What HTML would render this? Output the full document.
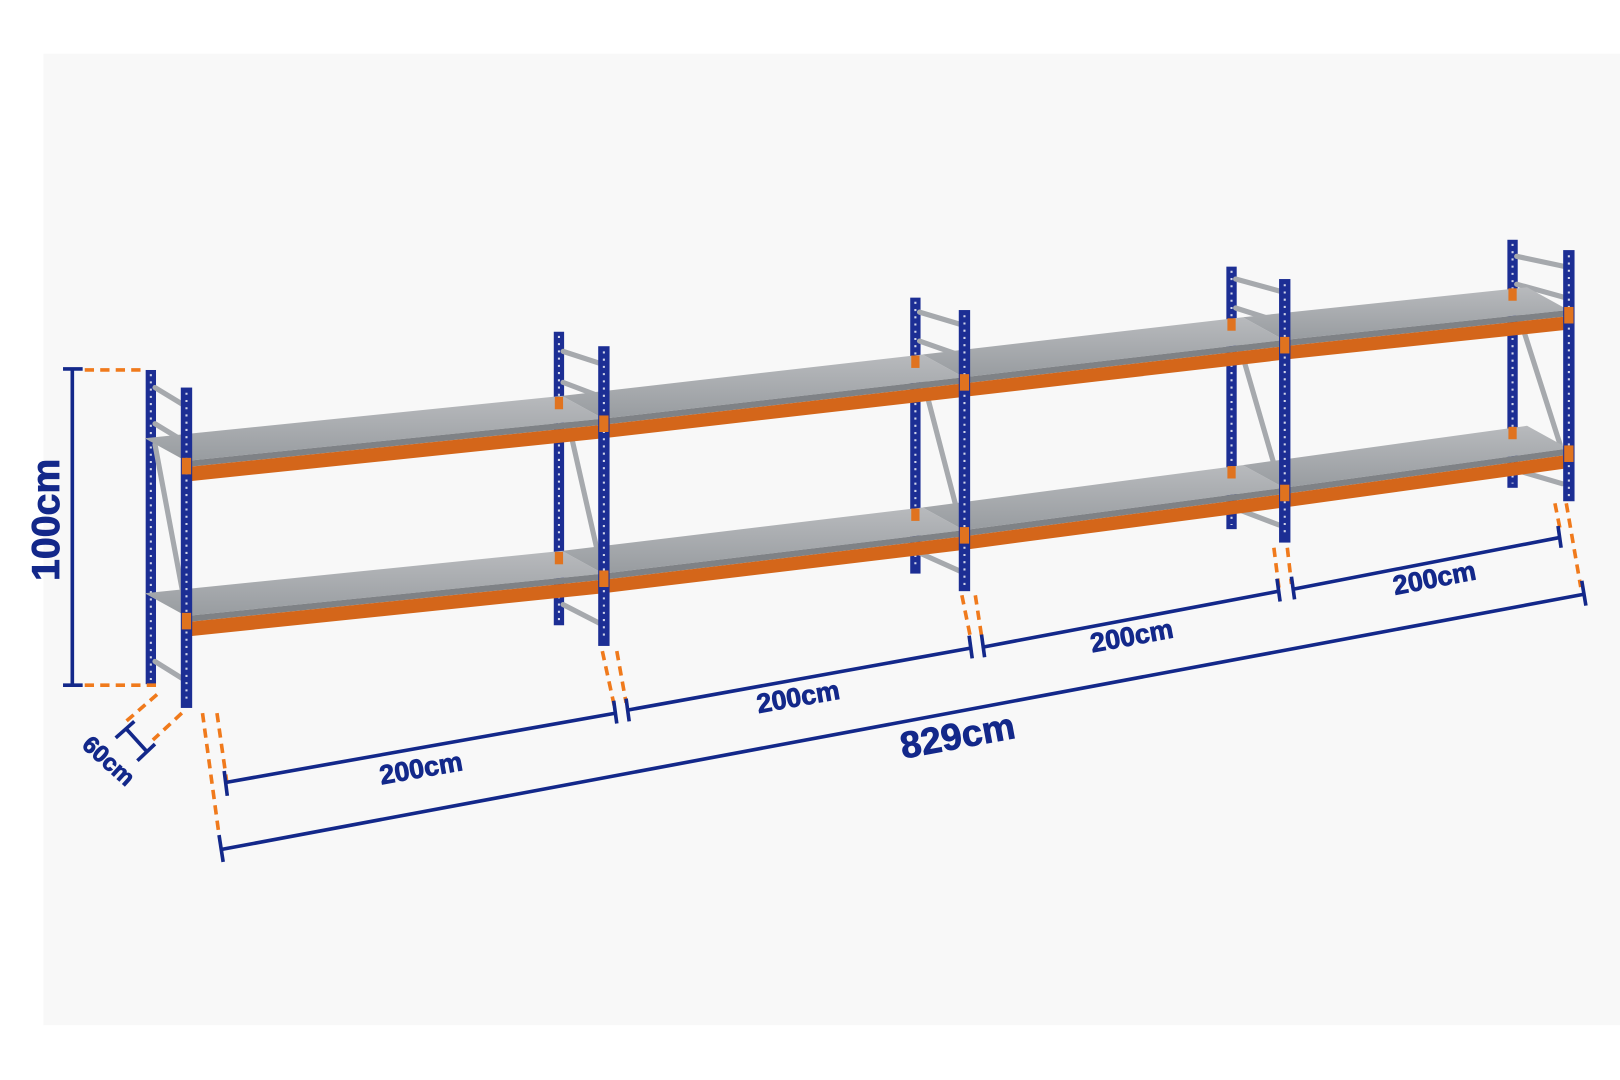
<!DOCTYPE html>
<html><head><meta charset="utf-8"><style>
html,body{margin:0;padding:0;background:#fff;width:1620px;height:1080px;overflow:hidden}
svg{display:block}
text{font-family:"Liberation Sans",Arial,sans-serif;font-weight:900;fill:#13288a;stroke:#13288a;stroke-width:0.8}
</style></head><body>
<svg width="1620" height="1080" viewBox="0 0 1568 1045" preserveAspectRatio="none">
<defs>
<linearGradient id="sh" x1="0" y1="0" x2="0" y2="1"><stop offset="0" stop-color="#b8babd"/><stop offset="1" stop-color="#989ca0"/></linearGradient>
</defs>
<rect x="0" y="0" width="1568" height="1045" fill="#fff"/>
<rect x="42" y="52" width="1526" height="940" fill="#f8f8f8"/>

<g id="backposts" fill="#1c2e94">
<rect x="141" y="358" width="10" height="304"/>
<rect x="536" y="321" width="10" height="284"/>
<rect x="881" y="288" width="10" height="267"/>
<rect x="1187" y="258" width="10" height="254"/>
<rect x="1459" y="232" width="10" height="240"/>
</g>
<g stroke="#fff" stroke-width="2" stroke-dasharray="2 5" opacity="0.8">
<line x1="146" y1="362" x2="146" y2="658"/>
<line x1="541" y1="325" x2="541" y2="600"/>
<line x1="886" y1="292" x2="886" y2="550"/>
<line x1="1192" y1="262" x2="1192" y2="508"/>
<line x1="1464" y1="236" x2="1464" y2="468"/>
</g>
<g stroke="#a6a9ad" stroke-width="5" stroke-linecap="round">
<line x1="150" y1="375" x2="178" y2="392"/><line x1="150" y1="410" x2="178" y2="427"/>
<line x1="150" y1="430" x2="180" y2="590"/><line x1="150" y1="640" x2="182" y2="660"/>
<line x1="545" y1="340" x2="582" y2="352"/><line x1="545" y1="370" x2="582" y2="384"/>
<line x1="548" y1="400" x2="582" y2="550"/><line x1="545" y1="585" x2="582" y2="604"/>
<line x1="890" y1="302" x2="930" y2="314"/><line x1="890" y1="330" x2="930" y2="344"/>
<line x1="892" y1="362" x2="930" y2="508"/><line x1="890" y1="535" x2="930" y2="553"/>
<line x1="1196" y1="270" x2="1240" y2="282"/><line x1="1196" y1="298" x2="1240" y2="312"/>
<line x1="1198" y1="328" x2="1238" y2="466"/><line x1="1196" y1="492" x2="1238" y2="508"/>
<line x1="1468" y1="248" x2="1515" y2="258"/><line x1="1468" y1="275" x2="1515" y2="288"/>
<line x1="1470" y1="305" x2="1510" y2="430"/><line x1="1468" y1="455" x2="1512" y2="468"/>
</g>

<g>
<polygon fill="url(#sh)" points="180,446 584,405 544,383 140,424"/>
<polygon fill="#7f8286" points="180,446 584,405 584,411 180,452"/>
<polygon fill="#d4661a" points="180,452 584,411 584,424 180,466"/>
<polygon fill="url(#sh)" points="584,405 933,365 893,343 544,383"/>
<polygon fill="#7f8286" points="584,405 933,365 933,371 584,411"/>
<polygon fill="#d4661a" points="584,411 933,371 933,384 584,424"/>
<polygon fill="url(#sh)" points="933,365 1243,329 1203,307 893,343"/>
<polygon fill="#7f8286" points="933,365 1243,329 1243,335 933,371"/>
<polygon fill="#d4661a" points="933,371 1243,335 1243,348 933,384"/>
<polygon fill="url(#sh)" points="1243,329 1518,300 1478,278 1203,307"/>
<polygon fill="#7f8286" points="1243,329 1518,300 1518,306 1243,335"/>
<polygon fill="#d4661a" points="1243,335 1518,306 1518,319 1243,348"/>

<polygon fill="url(#sh)" points="180,596 584,555 544,533 140,574"/>
<polygon fill="#7f8286" points="180,596 584,555 584,561 180,602"/>
<polygon fill="#d4661a" points="180,602 584,561 584,574 180,616"/>
<polygon fill="url(#sh)" points="584,555 933,513 893,491 544,533"/>
<polygon fill="#7f8286" points="584,555 933,513 933,519 584,561"/>
<polygon fill="#d4661a" points="584,561 933,519 933,532 584,574"/>
<polygon fill="url(#sh)" points="933,513 1243,472 1203,450 893,491"/>
<polygon fill="#7f8286" points="933,513 1243,472 1243,478 933,519"/>
<polygon fill="#d4661a" points="933,519 1243,478 1243,491 933,532"/>
<polygon fill="url(#sh)" points="1243,472 1518,434 1478,412 1203,450"/>
<polygon fill="#7f8286" points="1243,472 1518,434 1518,440 1243,478"/>
<polygon fill="#d4661a" points="1243,478 1518,440 1518,453 1243,491"/>
</g>

<g id="frontposts" fill="#1c2e94">
<rect x="175" y="375" width="11" height="310"/>
<rect x="579" y="335" width="11" height="290"/>
<rect x="928" y="300" width="11" height="272"/>
<rect x="1238" y="270" width="11" height="255"/>
<rect x="1513" y="242" width="11" height="243"/>
</g>
<g stroke="#fff" stroke-width="2" stroke-dasharray="2 5" opacity="0.8">
<line x1="180.5" y1="380" x2="180.5" y2="680"/>
<line x1="584.5" y1="340" x2="584.5" y2="620"/>
<line x1="933.5" y1="305" x2="933.5" y2="567"/>
<line x1="1243.5" y1="275" x2="1243.5" y2="520"/>
<line x1="1518.5" y1="247" x2="1518.5" y2="480"/>
</g>
<g fill="#e0731f">
<rect x="176" y="443" width="9" height="16"/><rect x="176" y="593" width="9" height="16"/>
<rect x="580" y="402" width="9" height="16"/><rect x="580" y="552" width="9" height="16"/>
<rect x="929" y="362" width="9" height="16"/><rect x="929" y="510" width="9" height="16"/>
<rect x="1239" y="326" width="9" height="16"/><rect x="1239" y="469" width="9" height="16"/>
<rect x="1514" y="297" width="9" height="16"/><rect x="1514" y="431" width="9" height="16"/>
<rect x="537" y="384" width="8" height="12"/><rect x="537" y="534" width="8" height="12"/>
<rect x="882" y="344" width="8" height="12"/><rect x="882" y="492" width="8" height="12"/>
<rect x="1188" y="308" width="8" height="12"/><rect x="1188" y="451" width="8" height="12"/>
<rect x="1460" y="279" width="8" height="12"/><rect x="1460" y="413" width="8" height="12"/>
</g>

<g stroke="#f07a1c" stroke-width="3.5" stroke-dasharray="9 6" fill="none">
<line x1="82" y1="358" x2="138" y2="358"/>
<line x1="82" y1="663" x2="152" y2="663"/>
<line x1="152" y1="672" x2="122" y2="698"/>
<line x1="176" y1="690" x2="148" y2="716"/>
<line x1="196" y1="690" x2="212" y2="808"/>
<line x1="210" y1="690" x2="220" y2="760"/>
<line x1="583" y1="630" x2="595" y2="685"/>
<line x1="597" y1="630" x2="606" y2="680"/>
<line x1="931" y1="576" x2="940" y2="620"/>
<line x1="944" y1="576" x2="950" y2="615"/>
<line x1="1233" y1="530" x2="1238" y2="570"/>
<line x1="1246" y1="530" x2="1250" y2="565"/>
<line x1="1505" y1="487" x2="1510" y2="512"/>
<line x1="1516" y1="487" x2="1530" y2="568"/>
</g>

<g stroke="#13288a" stroke-width="3.5" fill="none">
<line x1="70" y1="357" x2="70" y2="663"/>
<line x1="61" y1="357" x2="80" y2="357"/><line x1="61" y1="663" x2="80" y2="663"/>
<line x1="122" y1="705" x2="142" y2="727"/>
<line x1="112" y1="714" x2="130" y2="698"/><line x1="133" y1="736" x2="150" y2="720"/>
<line x1="219" y1="757" x2="596" y2="690"/>
<line x1="217" y1="746" x2="220" y2="770"/><line x1="594" y1="678" x2="597" y2="700"/>
<line x1="608" y1="687" x2="940" y2="627"/>
<line x1="606" y1="676" x2="609" y2="698"/><line x1="938" y1="615" x2="941" y2="637"/>
<line x1="952" y1="626" x2="1238" y2="572"/>
<line x1="950" y1="614" x2="953" y2="636"/><line x1="1236" y1="560" x2="1239" y2="582"/>
<line x1="1252" y1="570" x2="1510" y2="520"/>
<line x1="1250" y1="558" x2="1253" y2="580"/><line x1="1508" y1="509" x2="1511" y2="530"/>
<line x1="214" y1="822" x2="1533" y2="575"/>
<line x1="212" y1="808" x2="216" y2="834"/><line x1="1531" y1="562" x2="1535" y2="586"/>
</g>

<text transform="translate(57,503) rotate(-90)" font-size="38" text-anchor="middle">100cm</text>
<text transform="translate(100,742) rotate(42)" font-size="23" text-anchor="middle">60cm</text>
<text transform="translate(409,752) rotate(-10)" font-size="26" text-anchor="middle">200cm</text>
<text transform="translate(774,683) rotate(-10)" font-size="26" text-anchor="middle">200cm</text>
<text transform="translate(1097,624) rotate(-10.5)" font-size="26" text-anchor="middle">200cm</text>
<text transform="translate(1390,568) rotate(-11)" font-size="26" text-anchor="middle">200cm</text>
<text transform="translate(929,724) rotate(-10.5)" font-size="36" text-anchor="middle">829cm</text>
</svg>
</body></html>
